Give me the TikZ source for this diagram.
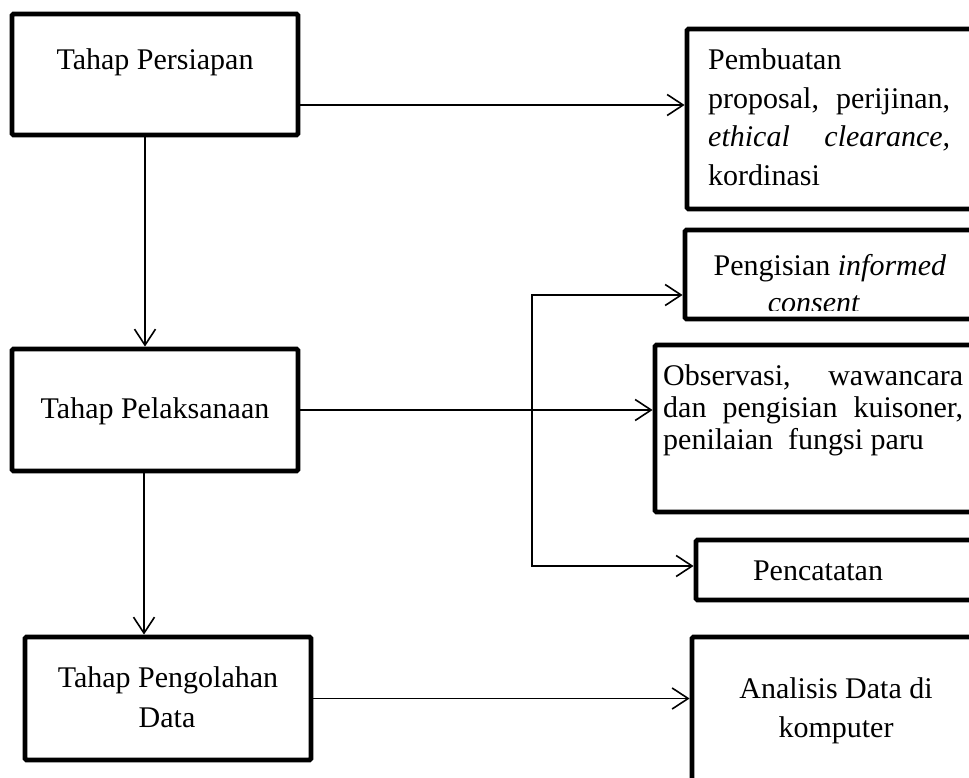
\documentclass[tikz,border=0pt]{standalone}
\usepackage{fontspec}
\setmainfont{Liberation Serif}
\usetikzlibrary{arrows.meta}
\begin{document}
\begin{tikzpicture}[x=1pt,y=-1pt,
  box/.style={draw, line width=4.8pt, rectangle, rounded corners=1.5pt, inner sep=0pt},
  txt/.style={font=\fontsize{30}{38}\selectfont, inner sep=0pt},
  conn/.style={line width=1.6pt, -{Straight Barb[length=16pt,width=21pt]}},
  branch/.style={line width=1.6pt, {Straight Barb[length=16pt,width=21pt]}-{Straight Barb[length=16pt,width=21pt]}}
  ]
\useasboundingbox (0,0) rectangle (969,778);
\clip (0,0) rectangle (969,778);
% left boxes
\node[box, minimum width=286pt, minimum height=121pt] (p1) at (155,74.5) {};
\node[box, minimum width=286pt, minimum height=122pt] (p2) at (155,410) {};
\node[box, minimum width=286pt, minimum height=123pt] (p3) at (168,698.5) {};
% right boxes
\node[box, minimum width=313pt, minimum height=180pt] (pa) at (843.5,119) {};
\node[box, minimum width=315pt, minimum height=89pt] (pb) at (842.5,274.5) {};
\node[box, minimum width=345pt, minimum height=167pt] (pc) at (827.5,428.5) {};
\node[box, minimum width=304pt, minimum height=60pt] (pd) at (848,570) {};
\node[box, minimum width=308pt, minimum height=183pt] (pe) at (846,728.5) {};
% texts
\node[txt, anchor=base] (t1) at (155,70) {Tahap Persiapan};
\node[txt, anchor=base] (t2) at (155,418) {Tahap Pelaksanaan};
\node[txt, anchor=base] (t3a) at (168,687) {Tahap Pengolahan};
\node[txt, anchor=base] (t3b) at (167,727) {Data};
\node[txt, anchor=base west] (ta1) at (708,70) {Pembuatan};
\node[txt, anchor=base west] (ta2) at (708,108.5) {\hbox to 242pt{proposal,\hfill perijinan,}};
\node[txt, anchor=base west] (ta3) at (708,147) {\hbox to 242pt{\textit{ethical}\hfill\textit{clearance,}}};
\node[txt, anchor=base west] (ta4) at (708,185.5) {kordinasi};
\begin{scope}
\clip (683,228) rectangle (969,310.5);
\node[txt, anchor=base] (tb1) at (830,275) {Pengisian \textit{informed}};
\node[txt, anchor=base] (tb2) at (814,312) {\textit{consent}};
\end{scope}
\node[txt, anchor=base west] (tc1) at (663,385) {\hbox to 300pt{Observasi,\hfill wawancara}};
\node[txt, anchor=base west] (tc2) at (663,417) {\hbox to 300pt{dan\hfill pengisian\hfill kuisoner,}};
\node[txt, anchor=base west] (tc3) at (663,449) {penilaian\ \ fungsi paru};
\node[txt, anchor=base] (td) at (818,580) {Pencatatan};
\node[txt, anchor=base] (te1) at (836,698) {Analisis Data di};
\node[txt, anchor=base] (te2) at (836,737) {komputer};
% connectors
\coordinate (h1) at (0,105);
\coordinate (v1) at (145,0);
\coordinate (v2) at (144,0);
\coordinate (bt) at (532,295);
\coordinate (bb) at (532,566);
\draw[conn] (p1.east |- h1) -- (pa.west |- h1);
\draw[conn] (p1.south -| v1) -- (p2.north -| v1);
\draw[conn] (p2.east) -- (pc.west |- p2.east);
\draw[conn] (p2.south -| v2) -- (p3.north -| v2);
\draw[conn] (p3.east) -- (pe.west |- p3.east);
\draw[branch] (pb.west |- bt) -- (bt) -- (bb) -- (pd.west |- bb);
\end{tikzpicture}
\end{document}
